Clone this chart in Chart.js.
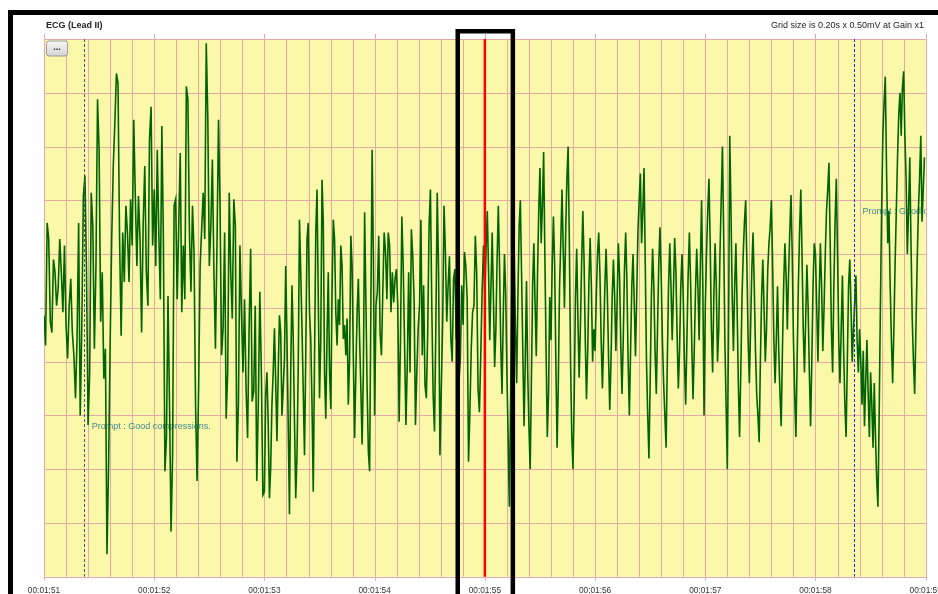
<!DOCTYPE html>
<html>
<head>
<meta charset="utf-8">
<script src="https://cdn.jsdelivr.net/npm/chart.js@4.4.0/dist/chart.umd.min.js"></script>
<style>
html, body { margin: 0; padding: 0; background: #fff; }
#wrap { position: relative; width: 938px; height: 594px; }
</style>
</head>
<body>
<div id="wrap"><canvas id="ecgChart" width="938" height="594"></canvas></div>
<script>
// ECG trace, one array per second (values in mV)
const sec111 = [-0.07,-0.35,0.79,0.64,-0.13,-0.23,0.45,0.33,0.02,0.18,0.64,0.33,-0.04,0.58,-0.16,-0.47,0.02,0.27,-0.23,-0.44,-0.84,-0.29,0.79,-1.00,-0.19,1.04,1.23,0.33,-1.09,-0.60,1.07,0.76,-0.38,0.39,1.94,1.47,-0.13,0.33,-0.66,-0.38,-2.29,-1.49,-0.35,0.64,1.32,1.72,2.18,2.09,0.64,-0.26,0.70,0.24,0.95,0.70,0.24,1.01,0.58,1.75,1.04,0.39,1.04,0.64,-0.23,0.79,1.32,0.33,0.02,1.56,1.87,0.58];
const sec112 = [1.10,0.39,1.47,0.70,0.08,1.69,0.64,-1.52,-1.21,0.11,-0.90,-2.08,-1.37,0.95,1.01,0.08,0.76,1.44,-0.04,0.58,0.08,2.06,1.94,0.70,0.15,0.95,0.52,-0.90,-1.61,-0.75,0.39,0.73,1.07,0.64,2.46,1.78,0.39,0.76,1.38,0.33,-0.38,0.58,1.75,0.95,-0.44,-0.19,0.70,-1.03,-0.60,1.07,0.33,-0.10,1.01,0.76,-1.43,-0.90,0.58,-0.04,-0.60,0.08,-0.75,-1.21,-0.19,0.55,-0.87,-0.78,0.02,-1.61,-0.90,0.15,-0.60,-1.74];
const sec113 = [-1.71,-0.81,-0.60,-1.06,-1.77,-1.49,-0.90,-0.60,-0.19,-0.69,-1.24,-0.60,-0.07,-0.23,-1.00,-0.75,-0.47,0.39,-0.29,-1.09,-1.92,-0.60,0.21,-0.29,-1.06,-1.77,-1.37,-0.56,0.82,0.33,-0.19,-0.78,-1.37,-0.44,0.64,0.79,-0.04,-0.29,-0.90,-1.71,-0.47,0.70,1.10,0.08,-0.84,-0.29,1.19,0.79,-0.60,-1.03,-0.26,0.33,-0.60,-0.94,0.15,0.82,0.64,-0.04,-0.35,0.08,-0.16,0.58,0.39,-0.29,-0.16,-0.44,-0.10,-0.90,-0.47,0.67,0.39,-0.47,-1.21,-0.60,-0.04,0.27,-0.29,-0.75,-1.27,-0.60,0.89,0.08,-0.75,-1.34,-1.52,0.02,1.47,0.48];
const sec114 = [-1.00,0.02,0.15,0.67,-0.23,-0.44,0.15,0.70,0.52,0.08,0.70,0.58,-0.04,0.33,0.05,0.27,0.36,0.02,-1.06,-0.29,0.85,0.39,-0.35,-1.09,-0.53,0.33,-0.60,0.73,0.48,0.08,-1.09,-0.60,-0.19,0.02,0.82,-0.44,0.21,-0.72,-0.84,-0.23,0.76,1.10,0.02,-0.81,-1.15,-0.16,1.07,0.33,-1.37,-0.75,-0.13,0.95,0.52,-0.13,0.21,0.48,-0.29,-0.50,0.27,0.36,-0.29,-0.29,-0.69,-0.47,0.21,-0.16,0.52,0.39,0.08,-1.43,-0.97,-0.38,-0.04,0.02,0.67,0.33,-0.75,-0.97,-0.44,0.15,0.58];
const sec115 = [0.10,0.55,0.90,0.35,-0.30,0.20,0.70,0.10,-0.55,-0.20,0.45,0.95,0.40,-0.35,-0.80,-0.10,0.50,0.15,-0.60,-1.20,-1.85,-0.90,0.20,0.85,0.50,-0.20,-0.70,0.10,0.75,1.00,0.30,-0.40,-1.10,-0.50,0.25,-0.60,-1.10,-1.50,-0.70,0.20,0.60,0.05,-0.45,0.30,0.90,1.30,0.60,0.95,1.45,0.50,-0.40,-1.20,-0.80,0.10,-0.30,0.40,0.85,0.40,-0.50,-1.30,-0.70,0.20,0.60,1.10,0.55,0.00,0.70,1.20,1.50,0.60,-0.50,-1.20,-1.50,-0.80,0.10,0.55,-0.10,-0.65,-0.20,0.40,0.90,0.45,-0.30,-0.85,-0.40,0.25,0.65,0.20,-0.50,-0.20];
const sec116 = [-0.40,0.10,0.50,0.70,0.30,-0.30,-0.75,-0.30,0.20,0.55,0.15,-0.45,-0.95,-0.50,0.10,0.45,0.10,-0.40,0.05,0.60,0.30,-0.35,-0.80,-0.30,0.35,0.70,0.25,-0.50,-1.00,-0.40,0.20,0.50,0.05,-0.45,0.10,0.70,1.00,1.25,0.60,0.90,1.30,0.40,-0.50,-1.00,-1.40,-0.70,0.10,0.55,0.20,-0.40,-0.80,-0.20,0.40,0.75,0.30,-0.30,-0.70,-1.00,-1.30,-0.50,0.20,0.60,0.20,-0.30,0.15,0.65,0.35,-0.25,-0.75,-0.40,0.20,0.50,0.10,-0.50,-0.90,-0.30,0.30,0.70,0.25,-0.35,-0.85,-0.40,0.15,0.55,0.20,-0.30,0.40,1.00,0.20,-1.00];
const sec117 = [0.00,0.50,0.90,1.20,0.60,-0.20,-0.60,0.10,0.60,0.20,-0.50,-0.20,0.50,1.00,1.50,0.70,-0.30,-0.90,-1.50,-0.20,1.60,0.90,0.10,-0.40,0.20,0.60,0.00,-0.70,-1.20,-0.60,0.10,0.50,0.80,1.00,0.40,-0.30,-0.70,-0.20,0.35,0.70,0.20,-0.40,-0.80,-1.00,-1.25,-0.50,0.10,0.45,0.00,-0.50,-0.20,0.35,0.60,0.75,1.00,0.40,-0.30,-0.70,-0.30,0.20,-0.40,-0.80,-1.10,-0.40,0.20,0.60,0.30,-0.20,0.30,0.70,1.05,0.50,-0.30,-0.80,-1.20,-0.50,0.20,0.70,1.10,0.50,-0.20,-0.60,-0.10,0.40,0.00,-0.60,-1.10,-0.50,0.20,0.60];
const sec118 = [0.50,0.00,-0.50,0.10,0.60,0.20,-0.40,0.00,0.50,0.90,1.10,1.35,0.60,-0.20,-0.60,0.20,0.80,1.20,0.50,-0.30,-0.70,-0.20,0.30,-0.40,-0.90,-1.20,-0.50,0.20,0.45,0.00,-0.50,-0.20,0.05,0.30,-0.30,-0.60,-0.20,-0.50,-0.90,-0.40,-1.10,-0.70,-0.30,-0.80,-1.20,-0.60,-0.90,-1.30,-0.70,-1.20,-1.60,-1.85,-1.00,0.00,0.90,1.60,1.90,2.15,1.30,0.60,0.90,0.20,-0.30,-0.70,-0.20,0.40,0.90,1.40,1.80,2.00,1.60,2.05,2.20,1.60,1.20,0.50,0.90,1.40,0.60,-0.10,-0.50,-0.80,-0.20,0.40,0.90,1.20,1.60,0.80,1.10,1.40];

const startSecond = 111;
const timeLabels = ['00:01:51','00:01:52','00:01:53','00:01:54','00:01:55','00:01:56','00:01:57','00:01:58','00:01:59'];
const promptTimes = [111.36, 118.353];
const promptTexts = ['Prompt : Good compressions.', 'Prompt : Good compressions.'];
const promptLevels = [-1.1, 0.9];   // mV level where each prompt text sits
const cursorTime = 115;
const boxTimes = [114.754, 115.254];

const colors = {
    paper: '#fbf9a9',
    grid: '#e5a9a6',
    trace: '#006400',
    text: '#333333',
    prompt: '#3a8894',
    cursor: '#ff0000',
    frame: '#000000'
};

const segments = [sec111, sec112, sec113, sec114, sec115, sec116, sec117, sec118];
const tracePoints = [];
segments.forEach((seg, k) => {
    seg.forEach((v, i) => tracePoints.push({ x: startSecond + k + i / seg.length, y: v }));
});

// paper, grid, labels and overlays
const ecgPaper = {
    id: 'ecgPaper',
    beforeDraw(chart) {
        const { ctx, chartArea: a, scales: { x, y } } = chart;
        ctx.save();
        ctx.fillStyle = '#fff';
        ctx.fillRect(0, 0, chart.width, chart.height);

        // outer window frame
        ctx.strokeStyle = colors.frame;
        ctx.lineWidth = 5;
        ctx.beginPath();
        ctx.moveTo(10.5, chart.height);
        ctx.lineTo(10.5, 12.5);
        ctx.lineTo(chart.width, 12.5);
        ctx.stroke();

        ctx.fillStyle = colors.paper;
        ctx.fillRect(a.left, a.top, a.right - a.left, a.bottom - a.top);

        // grid 0.2 s x 0.5 mV
        ctx.strokeStyle = colors.grid;
        ctx.lineWidth = 1;
        ctx.beginPath();
        for (let t = 0; t <= 40; t++) {
            const px = Math.round(x.getPixelForValue(startSecond + t * 0.2)) + 0.5;
            ctx.moveTo(px, a.top);
            ctx.lineTo(px, a.bottom);
        }
        for (let v = -5; v <= 5; v++) {
            const py = Math.round(y.getPixelForValue(v * 0.5)) + 0.5;
            ctx.moveTo(a.left, py);
            ctx.lineTo(a.right, py);
        }
        // second ticks above and below
        timeLabels.forEach((lab, i) => {
            const px = Math.round(x.getPixelForValue(startSecond + i)) + 0.5;
            ctx.moveTo(px, a.top - 5);
            ctx.lineTo(px, a.top);
            ctx.moveTo(px, a.bottom);
            ctx.lineTo(px, a.bottom + 4);
        });
        const zy = Math.round(y.getPixelForValue(0)) + 0.5;
        ctx.moveTo(a.left - 4, zy);
        ctx.lineTo(a.left, zy);
        ctx.stroke();

        // time labels
        ctx.fillStyle = colors.text;
        ctx.font = '8.3px "Liberation Sans", Arial, sans-serif';
        ctx.textAlign = 'center';
        ctx.textBaseline = 'middle';
        timeLabels.forEach((lab, i) => {
            ctx.fillText(lab, x.getPixelForValue(startSecond + i), 591);
        });

        // header texts
        ctx.fillStyle = '#222';
        ctx.font = 'bold 9px "Liberation Sans", Arial, sans-serif';
        ctx.textAlign = 'left';
        ctx.fillText('ECG (Lead II)', 46, 25.5);
        ctx.font = '9px "Liberation Sans", Arial, sans-serif';
        ctx.textAlign = 'right';
        ctx.fillText('Grid size is 0.20s x 0.50mV at Gain x1', 924, 25.5);
        ctx.restore();
    },
    beforeDatasetsDraw(chart) {
        const { ctx, chartArea: a, scales: { x, y } } = chart;
        ctx.save();
        ctx.beginPath();
        ctx.rect(a.left, a.top, a.right - a.left, a.bottom - a.top);
        ctx.clip();
        ctx.fillStyle = colors.prompt;
        ctx.font = '9px "Liberation Sans", Arial, sans-serif';
        ctx.textAlign = 'left';
        ctx.textBaseline = 'middle';
        promptTimes.forEach((t, i) => {
            ctx.fillText(promptTexts[i], x.getPixelForValue(t) + 8, y.getPixelForValue(promptLevels[i]));
        });
        ctx.restore();
    },
    afterDatasetsDraw(chart) {
        const { ctx, chartArea: a, scales: { x } } = chart;
        ctx.save();
        // prompt markers
        const markerColors = ['#4a5088', '#2a2ae6'];
        promptTimes.forEach((t, i) => {
            const px = Math.round(x.getPixelForValue(t)) + 0.5;
            ctx.strokeStyle = markerColors[i];
            ctx.lineWidth = 1;
            ctx.setLineDash([3, 2]);
            ctx.beginPath();
            ctx.moveTo(px, a.top);
            ctx.lineTo(px, a.bottom);
            ctx.stroke();
        });
        ctx.setLineDash([]);

        // cursor
        const cx = x.getPixelForValue(cursorTime);
        ctx.strokeStyle = colors.cursor;
        ctx.lineWidth = 2.5;
        ctx.beginPath();
        ctx.moveTo(cx, a.top);
        ctx.lineTo(cx, a.bottom);
        ctx.stroke();

        // selection box
        const bl = x.getPixelForValue(boxTimes[0]);
        const br = x.getPixelForValue(boxTimes[1]);
        ctx.strokeStyle = colors.frame;
        ctx.lineWidth = 4.5;
        ctx.beginPath();
        ctx.moveTo(bl, chart.height + 5);
        ctx.lineTo(bl, 31.3);
        ctx.lineTo(br, 31.3);
        ctx.lineTo(br, chart.height + 5);
        ctx.stroke();

        // "..." button
        const bx = 46.5, by = 41, bw = 21, bh = 15;
        const g = ctx.createLinearGradient(0, by, 0, by + bh);
        g.addColorStop(0, '#f8f8f8');
        g.addColorStop(1, '#d4d4d4');
        ctx.fillStyle = g;
        ctx.strokeStyle = '#9a9a9a';
        ctx.lineWidth = 1;
        ctx.beginPath();
        ctx.roundRect(bx, by, bw, bh, 2.5);
        ctx.fill();
        ctx.stroke();
        ctx.fillStyle = '#222';
        ctx.font = 'bold 9px "Liberation Sans", Arial, sans-serif';
        ctx.textAlign = 'center';
        ctx.textBaseline = 'middle';
        ctx.fillText('...', bx + bw / 2, by + bh / 2 - 1);
        ctx.restore();
    }
};

new Chart(document.getElementById('ecgChart').getContext('2d'), {
    type: 'line',
    data: {
        datasets: [{
            label: 'ECG (Lead II)',
            data: tracePoints,
            borderColor: colors.trace,
            borderWidth: 1.6,
            pointRadius: 0,
            tension: 0,
            fill: false
        }]
    },
    options: {
        responsive: false,
        animation: false,
        layout: { padding: { left: 44, right: 12.3, top: 39, bottom: 17.3 } },
        plugins: { legend: { display: false }, tooltip: { enabled: false } },
        scales: {
            x: { type: 'linear', min: 111, max: 119, display: false },
            y: { min: -2.5, max: 2.5, display: false }
        }
    },
    plugins: [ecgPaper]
});
</script>
</body>
</html>
